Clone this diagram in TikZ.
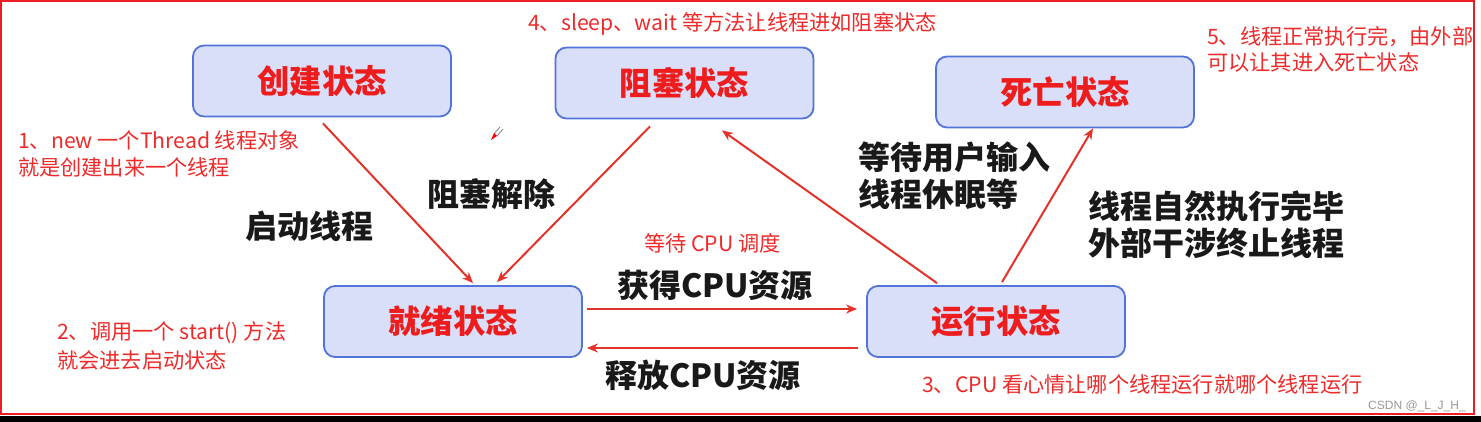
\documentclass[tikz,border=0pt]{standalone}
\usepackage{fontspec}
\setmainfont{Noto Sans CJK SC}
\newfontfamily\csdnfont{Liberation Sans}
\usetikzlibrary{arrows.meta,calc}
\definecolor{boxfill}{HTML}{D9DFF8}
\definecolor{boxline}{HTML}{5274D8}
\definecolor{lblred}{HTML}{EE1C1C}
\definecolor{arrred}{HTML}{E3322A}
\definecolor{notered}{HTML}{EE2A2A}
\definecolor{frame}{HTML}{EE1C25}
\tikzset{
  state/.style={draw=boxline, line width=1.8pt, fill=boxfill, rounded corners=11pt,
    minimum width=258pt, minimum height=71pt, inner sep=0pt,
    font=\fontsize{32.3}{32.3}\selectfont\bfseries, text=lblred},
  arr/.style={draw=arrred, line width=2pt, -{Stealth[length=11pt,width=9pt]}},
  note/.style={anchor=west, inner sep=0pt, text=notered, font=\fontsize{21.2}{21.2}\selectfont},
  lab/.style={anchor=west, inner sep=0pt, text=black!90, font=\fontsize{32}{32}\selectfont\bfseries},
}
\begin{document}
\begin{tikzpicture}[x=1pt,y=-1pt]
\fill[white] (0,0) rectangle (1481,422);
\useasboundingbox (0,0) rectangle (1481,422);
\fill[black] (0,416) rectangle (1481,422);
\draw[frame, line width=2pt] (1,1) rectangle (1474,414);

\node[state] (cj) at (322,81) {创建状态};
\node[state] (zs) at (684.5,83) {阻塞状态};
\node[state] (sw) at (1065,92) {死亡状态};
\node[state] (jx) at (453,321.5) {就绪状态};
\node[state] (yx) at (996,321.5) {运行状态};

\draw[arr] ([shift={(1,6)}]cj.south) -- ([shift={(20,-2)}]jx.north);
\draw[arr] ([shift={(-34.5,7)}]zs.south) -- ([shift={(44,-3)}]jx.north);
\draw[arr] ([shift={(-59,-2)}]yx.north) -- ([shift={(37.5,11)}]zs.south);
\draw[arr] ([shift={(6,-3)}]yx.north) -- ([shift={(28,0)}]sw.south);
\draw[arr] ([shift={(4,-12.5)}]jx.east) -- ([shift={(-9,-12.5)}]yx.west);
\draw[arr] ([shift={(-8,26.5)}]yx.west) -- ([shift={(4,26.5)}]jx.east);

\node[note] (n4) at (528,24) {4、sleep、wait 等方法让线程进如阻塞状态};
\node[note] (n5a) at (1207,37) {5、线程正常执行完，由外部};
\node[note] (n5b) at (1207,62) {可以让其进入死亡状态};
\node[note] (n1a) at (18,140) {1、new 一个Thread 线程对象};
\node[note] (n1b) at (18,167) {就是创建出来一个线程};
\node[note] (n2a) at (57,333) {2、调用一个 start() 方法};
\node[note] (n2b) at (57,360) {就会进去启动状态};
\node[note] (n3) at (922,384) {3、CPU 看心情让哪个线程运行就哪个线程运行};
\node[note] (nd) at (644,243) {等待 CPU 调度};

\node[lab] (l1) at (245,226) {启动线程};
\node[lab] (l2) at (427,194) {阻塞解除};
\node[lab] (l3) at (617,285) {获得CPU资源};
\node[lab] (l4) at (605,375) {释放CPU资源};
\node[lab] (l5) at (858,157) {等待用户输入};
\node[lab] (l6) at (858,194) {线程休眠等};
\node[lab] (l7) at (1088,206) {线程自然执行完毕};
\node[lab] (l8) at (1088,243) {外部干涉终止线程};

\node[anchor=west, inner sep=0pt, text=black!40, font=\csdnfont\fontsize{12}{12}\selectfont] (csdn) at (1368,406) {CSDN @\_L\_J\_H\_};

% small pen icon
\draw[gray, line width=0.8pt] (494,134) -- (500,127) (497,136) -- (503,129);
\fill[red] (491,140) -- (494,133) -- (497,136) -- cycle;
\end{tikzpicture}
\end{document}
